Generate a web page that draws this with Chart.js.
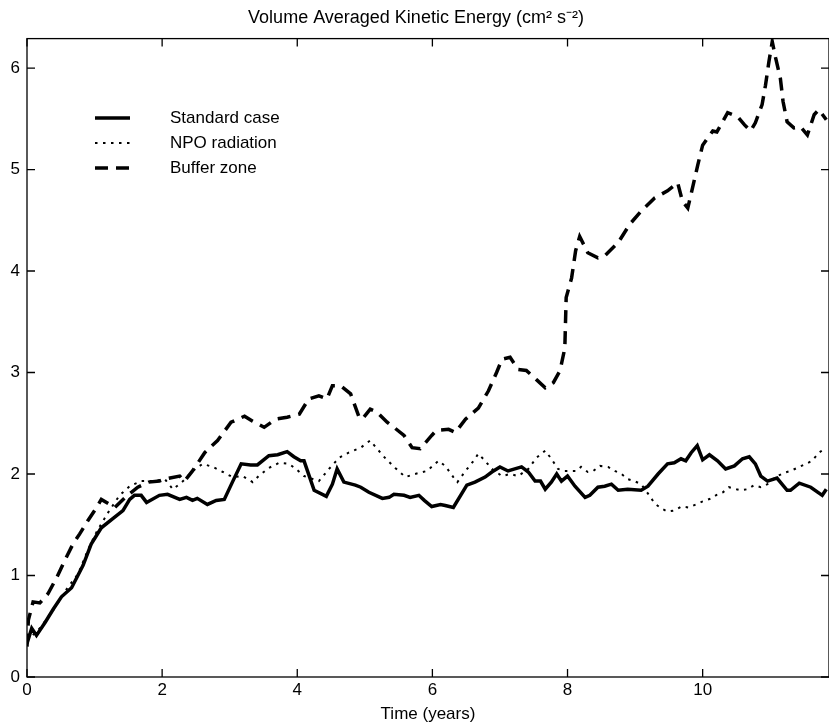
<!DOCTYPE html>
<html>
<head>
<meta charset="utf-8">
<script src="https://cdn.jsdelivr.net/npm/chart.js@4.4.1/dist/chart.umd.min.js"></script>
<style>
  html, body { margin: 0; padding: 0; background: #fff; }
  #wrap { width: 829px; height: 725px; }
</style>
</head>
<body>
<div id="wrap"><canvas id="keChart" width="829" height="725"></canvas></div>
<script>
// --- DATA ---

const xTicks = [0, 2, 4, 6, 8, 10]
const yTicks = [0, 1, 2, 3, 4, 5, 6]

const stdTime = [0.00, 0.07, 0.14, 0.27, 0.39, 0.51, 0.66, 0.83, 0.95, 1.10, 1.27, 1.42, 1.52, 1.59, 1.69, 1.77, 1.96, 2.08, 2.26, 2.36, 2.45, 2.52, 2.67, 2.80, 2.92, 3.04, 3.17, 3.31, 3.41, 3.58, 3.71, 3.85, 3.95, 4.05, 4.10, 4.25, 4.43, 4.52, 4.59, 4.69, 4.86, 4.94, 5.06, 5.26, 5.36, 5.43, 5.58, 5.67, 5.80, 5.88, 5.99, 6.12, 6.19, 6.31, 6.51, 6.63, 6.78, 6.88, 7.00, 7.12, 7.22, 7.32, 7.42, 7.52, 7.60, 7.67, 7.76, 7.84, 7.91, 8.00, 8.11, 8.26, 8.33, 8.45, 8.55, 8.65, 8.75, 8.89, 9.09, 9.19, 9.34, 9.48, 9.58, 9.68, 9.75, 9.83, 9.92, 10.00, 10.10, 10.22, 10.34, 10.47, 10.59, 10.69, 10.78, 10.86, 10.96, 11.10, 11.25, 11.30, 11.43, 11.60, 11.77, 11.83]
const stdValues = [0.33, 0.48, 0.41, 0.54, 0.67, 0.79, 0.88, 1.10, 1.31, 1.47, 1.56, 1.64, 1.75, 1.79, 1.79, 1.72, 1.79, 1.80, 1.75, 1.77, 1.74, 1.76, 1.70, 1.74, 1.75, 1.92, 2.10, 2.09, 2.09, 2.18, 2.19, 2.22, 2.17, 2.13, 2.13, 1.84, 1.78, 1.90, 2.05, 1.92, 1.89, 1.87, 1.82, 1.76, 1.77, 1.80, 1.79, 1.77, 1.79, 1.74, 1.68, 1.70, 1.69, 1.67, 1.89, 1.92, 1.97, 2.02, 2.07, 2.03, 2.05, 2.07, 2.02, 1.93, 1.93, 1.85, 1.92, 2.00, 1.93, 1.98, 1.88, 1.77, 1.79, 1.87, 1.88, 1.90, 1.84, 1.85, 1.84, 1.88, 2.00, 2.10, 2.11, 2.15, 2.13, 2.21, 2.28, 2.14, 2.19, 2.13, 2.05, 2.08, 2.15, 2.17, 2.10, 1.98, 1.93, 1.96, 1.84, 1.84, 1.91, 1.87, 1.79, 1.85]

const npoTime = [0.00, 0.19, 0.39, 0.59, 0.76, 0.90, 1.03, 1.20, 1.37, 1.52, 1.69, 1.87, 2.04, 2.16, 2.31, 2.45, 2.60, 2.75, 2.90, 3.04, 3.19, 3.34, 3.43, 3.58, 3.73, 3.88, 3.98, 4.10, 4.32, 4.47, 4.62, 4.76, 4.94, 5.08, 5.18, 5.31, 5.45, 5.60, 5.74, 5.92, 6.09, 6.19, 6.31, 6.37, 6.49, 6.61, 6.68, 6.78, 6.88, 7.03, 7.15, 7.27, 7.42, 7.54, 7.67, 7.76, 7.86, 7.96, 8.13, 8.20, 8.30, 8.38, 8.48, 8.60, 8.70, 8.80, 8.89, 8.99, 9.09, 9.21, 9.29, 9.39, 9.48, 9.58, 9.69, 9.79, 9.90, 10.00, 10.13, 10.22, 10.30, 10.39, 10.50, 10.57, 10.66, 10.76, 10.86, 10.96, 11.08, 11.20, 11.30, 11.43, 11.53, 11.62, 11.72, 11.83]
const npoValues = [0.36, 0.48, 0.66, 0.87, 1.02, 1.25, 1.43, 1.62, 1.79, 1.88, 1.93, 1.93, 1.95, 1.85, 1.93, 2.03, 2.10, 2.07, 2.02, 1.97, 1.98, 1.92, 1.98, 2.06, 2.11, 2.10, 2.05, 1.98, 1.93, 2.05, 2.16, 2.21, 2.26, 2.33, 2.25, 2.15, 2.06, 1.97, 2.00, 2.03, 2.13, 2.08, 1.97, 1.92, 2.03, 2.13, 2.20, 2.13, 2.05, 1.98, 2.00, 1.98, 2.05, 2.16, 2.23, 2.15, 2.05, 2.03, 2.03, 2.07, 2.02, 2.03, 2.08, 2.07, 2.03, 2.00, 1.95, 1.93, 1.90, 1.79, 1.71, 1.66, 1.63, 1.64, 1.68, 1.67, 1.70, 1.73, 1.76, 1.80, 1.82, 1.87, 1.85, 1.84, 1.85, 1.89, 1.87, 1.90, 1.97, 2.01, 2.03, 2.07, 2.10, 2.13, 2.21, 2.26]

const bufTime = [0.00, 0.02, 0.09, 0.19, 0.31, 0.44, 0.56, 0.68, 0.78, 0.90, 1.03, 1.10, 1.30, 1.47, 1.64, 1.80, 1.96, 2.04, 2.26, 2.33, 2.45, 2.63, 2.82, 3.02, 3.22, 3.34, 3.51, 3.68, 3.85, 4.03, 4.17, 4.32, 4.44, 4.52, 4.64, 4.79, 4.91, 4.96, 5.08, 5.18, 5.33, 5.43, 5.58, 5.70, 5.82, 5.99, 6.06, 6.24, 6.34, 6.49, 6.68, 6.83, 6.95, 7.03, 7.15, 7.27, 7.39, 7.54, 7.67, 7.79, 7.89, 7.96, 7.98, 8.06, 8.12, 8.18, 8.30, 8.45, 8.55, 8.75, 8.92, 9.09, 9.29, 9.48, 9.63, 9.70, 9.78, 9.85, 9.93, 10.00, 10.15, 10.21, 10.37, 10.52, 10.62, 10.71, 10.78, 10.88, 10.93, 10.98, 11.03, 11.08, 11.15, 11.19, 11.25, 11.35, 11.45, 11.55, 11.65, 11.72, 11.83]
const bufValues = [0.30, 0.56, 0.74, 0.73, 0.82, 0.98, 1.15, 1.31, 1.41, 1.54, 1.67, 1.75, 1.67, 1.78, 1.87, 1.92, 1.93, 1.95, 1.98, 1.93, 2.03, 2.21, 2.33, 2.51, 2.57, 2.52, 2.46, 2.54, 2.56, 2.59, 2.74, 2.77, 2.74, 2.87, 2.87, 2.79, 2.57, 2.54, 2.64, 2.61, 2.51, 2.46, 2.38, 2.26, 2.25, 2.38, 2.43, 2.44, 2.41, 2.54, 2.65, 2.82, 3.00, 3.13, 3.15, 3.03, 3.02, 2.93, 2.85, 2.90, 3.02, 3.24, 3.74, 3.93, 4.20, 4.34, 4.18, 4.13, 4.15, 4.28, 4.46, 4.59, 4.72, 4.79, 4.87, 4.69, 4.62, 4.82, 5.05, 5.24, 5.38, 5.37, 5.56, 5.52, 5.44, 5.38, 5.46, 5.64, 5.83, 6.06, 6.26, 6.10, 5.90, 5.67, 5.47, 5.41, 5.42, 5.34, 5.54, 5.59, 5.49]

const seriesLabels = ['Standard case', 'NPO radiation', 'Buffer zone']

const X_MAX = 11.87
const Y_MAX = 6.29
const TICK_LEN = 8
const FONT = '"Liberation Sans", Arial, Helvetica, sans-serif'

function toPoints(times, values){
    return times.map((t, i) => ({ x: t, y: values[i] }))
}

// --- PLUGINS ---

// box round the plot with ticks pointing inward on all four sides
const framePlugin = {
    id: 'frame',
    afterDatasetsDraw(chart){
        const { ctx, chartArea: a, scales } = chart
        const x = scales.x, y = scales.y
        ctx.save()
        ctx.strokeStyle = '#000'
        ctx.lineWidth = 1.3
        ctx.setLineDash([])
        ctx.strokeRect(a.left, a.top, a.right - a.left, a.bottom - a.top)

        ctx.beginPath()
        xTicks.forEach(v => {
            const px = x.getPixelForValue(v)
            ctx.moveTo(px, a.bottom); ctx.lineTo(px, a.bottom - TICK_LEN)
            ctx.moveTo(px, a.top); ctx.lineTo(px, a.top + TICK_LEN)
        })
        yTicks.forEach(v => {
            const py = y.getPixelForValue(v)
            ctx.moveTo(a.left, py); ctx.lineTo(a.left + TICK_LEN, py)
            ctx.moveTo(a.right, py); ctx.lineTo(a.right - TICK_LEN, py)
        })
        ctx.stroke()
        ctx.restore()
    }
}

// legend drawn inside the plot, top left
const innerLegend = {
    id: 'innerLegend',
    afterDatasetsDraw(chart){
        const { ctx } = chart
        ctx.save()
        ctx.font = '17px ' + FONT
        ctx.textBaseline = 'middle'
        ctx.fillStyle = '#000'
        chart.data.datasets.forEach((ds, i) => {
            const ly = 118 + i * 25
            ctx.beginPath()
            ctx.strokeStyle = '#000'
            ctx.lineWidth = ds.borderWidth
            ctx.setLineDash(ds.borderDash || [])
            ctx.moveTo(95, ly)
            ctx.lineTo(130, ly)
            ctx.stroke()
            ctx.setLineDash([])
            ctx.fillText(ds.label, 170, ly)
        })
        ctx.restore()
    }
}

// --- CHART ---

function initChart(){
    const ctx = document.getElementById('keChart').getContext('2d')

    new Chart(ctx, {
        type: 'line',
        data: {
            datasets: [
                {
                    label: seriesLabels[0],
                    data: toPoints(stdTime, stdValues),
                    borderColor: '#000',
                    borderWidth: 3.5,
                    borderDash: [],
                    pointRadius: 0,
                    tension: 0
                },
                {
                    label: seriesLabels[1],
                    data: toPoints(npoTime, npoValues),
                    borderColor: '#000',
                    borderWidth: 2,
                    borderDash: [2.5, 5.5],
                    pointRadius: 0,
                    tension: 0
                },
                {
                    label: seriesLabels[2],
                    data: toPoints(bufTime, bufValues),
                    borderColor: '#000',
                    borderWidth: 3.5,
                    borderDash: [13, 8],
                    pointRadius: 0,
                    tension: 0
                }
            ]
        },
        options: {
            responsive: false,
            animation: false,
            layout: { padding: { left: 0, right: -3, top: 0, bottom: 0 } },
            plugins: {
                legend: { display: false },
                tooltip: { enabled: false },
                title: {
                    display: true,
                    text: 'Volume Averaged Kinetic Energy (cm² s⁻²)',
                    color: '#000',
                    font: { family: FONT, size: 18, weight: 'normal' },
                    padding: { top: 7, bottom: 10 }
                }
            },
            scales: {
                x: {
                    type: 'linear',
                    min: 0,
                    max: X_MAX,
                    grid: { display: false, drawTicks: false },
                    border: { display: false },
                    ticks: {
                        stepSize: 2,
                        includeBounds: false,
                        color: '#000',
                        padding: 3,
                        maxRotation: 0,
                        font: { family: FONT, size: 17 }
                    },
                    title: {
                        display: true,
                        text: 'Time (years)',
                        color: '#000',
                        padding: 0,
                        font: { family: FONT, size: 17 }
                    },
                    afterFit(scale){ scale.height = 48 }
                },
                y: {
                    min: 0,
                    max: Y_MAX,
                    grid: { display: false, drawTicks: false },
                    border: { display: false },
                    ticks: {
                        stepSize: 1,
                        includeBounds: false,
                        color: '#000',
                        padding: 7,
                        font: { family: FONT, size: 17 }
                    },
                    afterFit(scale){ scale.width = 27 }
                }
            }
        },
        plugins: [framePlugin, innerLegend]
    })
}

document.addEventListener('DOMContentLoaded', () => {
    initChart()
})
</script>
</body>
</html>
